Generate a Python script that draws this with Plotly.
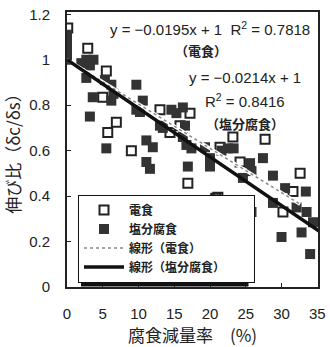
import plotly.graph_objects as go

# 電食 (open squares)
denshoku_x = [0.1, 2.9, 5.5, 5.0, 6.9, 5.7, 9.0, 13.0, 14.4, 15.8, 17.2, 16.9, 21.4, 23.2,
              27.7, 24.2, 21.1, 32.6, 31.6, 30.2, 20.8]
denshoku_y = [1.14, 1.05, 0.95, 0.835, 0.725, 0.68, 0.60, 0.78, 0.68, 0.71, 0.765, 0.457, 0.615, 0.66,
              0.65, 0.55, 0.395, 0.50, 0.42, 0.33, 0.39]

# 塩分腐食 (filled squares)
enbun_x = [0, 0, 0, 0, 2.0, 2.7, 3.2, 2.7, 3.7, 5.3, 6.2, 6.5, 9.7, 3.6, 6.2, 3.2, 5.5,
           11.1, 11.1, 12.0, 11.6, 10.6, 10.2, 13.0, 13.4, 15.3, 16.2, 16.2, 16.7, 16.9,
           19.3, 20.0, 20.0, 21.6, 22.5, 25.8, 24.6, 27.4, 28.8, 30.5, 33.4, 22.5, 25.8,
           28.8, 32.1, 33.5, 34.4, 30.0, 32.8, 34.0, 14.6, 9.7, 17.4, 16.5, 25.6, 23.3]
enbun_y = [1.11, 1.07, 1.03, 1.0, 0.985, 1.0, 0.975, 0.92, 1.0, 0.91, 0.89, 0.85, 0.89, 0.835, 0.82, 0.75, 0.61,
           0.645, 0.55, 0.615, 0.52, 0.82, 0.77, 0.71, 0.70, 0.765, 0.79, 0.66, 0.625, 0.53,
           0.615, 0.567, 0.53, 0.60, 0.61, 0.51, 0.48, 0.567, 0.49, 0.435, 0.42, 0.37, 0.33,
           0.37, 0.35, 0.33, 0.285, 0.22, 0.24, 0.145, 0.78, 0.78, 0.61, 0.71, 0.545, 0.61]

# trend lines (from the printed equations)
slope_den, icpt_den = -0.0195, 1.0
slope_enb, icpt_enb = -0.0214, 1.0
den_line_x = [0, 32.6]
enb_line_x = [0, 35.6]

x_ticks = [0, 5, 10, 15, 20, 25, 30, 35]
y_ticks = [0, 0.2, 0.4, 0.6, 0.8, 1.0, 1.2]
y_ticktext = ["0", "0.2", "0.4", "0.6", "0.8", "1", "1.2"]

JP = "Noto Sans CJK JP"
LAT = "Liberation Sans, Arial, sans-serif"
INK = "#222"

fig = go.Figure()
fig.add_trace(go.Scatter(x=denshoku_x, y=denshoku_y, mode="markers", name="電食",
                         marker=dict(symbol="square-open", size=9, color=INK, line=dict(width=2, color=INK))))
fig.add_trace(go.Scatter(x=enbun_x, y=enbun_y, mode="markers", name="塩分腐食",
                         marker=dict(symbol="square", size=10, color="#333", line=dict(width=0))))
fig.add_trace(go.Scatter(x=den_line_x, y=[slope_den * v + icpt_den for v in den_line_x], mode="lines",
                         showlegend=False, hoverinfo="skip", line=dict(color="white", width=3.5)))
fig.add_trace(go.Scatter(x=den_line_x, y=[slope_den * v + icpt_den for v in den_line_x], mode="lines",
                         name="線形（電食）", line=dict(color="#888", width=1.5, dash="dot")))
fig.add_trace(go.Scatter(x=enb_line_x, y=[slope_enb * v + icpt_enb for v in enb_line_x], mode="lines",
                         name="線形（塩分腐食）", line=dict(color="#111", width=3.5)))

ann = [
    dict(x=20.0, y=1.138, text="y = −0.0195x + 1  R<sup>2</sup> = 0.7818", font=dict(family=LAT, size=15, color=INK)),
    dict(x=18.7, y=1.042, text="（電食）", font=dict(family=JP, size=13, color=INK, weight="bold")),
    dict(x=24.9, y=0.923, text="y = −0.0214x + 1", font=dict(family=LAT, size=15, color=INK)),
    dict(x=24.9, y=0.822, text="R<sup>2</sup> = 0.8416", font=dict(family=LAT, size=15, color=INK)),
    dict(x=24.9, y=0.72, text="（塩分腐食）", font=dict(family=JP, size=13, color=INK, weight="bold")),
]
for a in ann:
    a.update(xref="x", yref="y", showarrow=False, xanchor="center", yanchor="middle")

# plot area in pixels: x 67..318, y 12..287
PW, PH, PL, PB = 251.0, 275.0, 67.0, 287.0
def px2paper_x(p):
    return (p - PL) / PW
def px2paper_y(p):
    return (PB - p) / PH

shadow = dict(type="rect", xref="paper", yref="paper", layer="above",
              x0=px2paper_x(81), x1=px2paper_x(248.5), y0=px2paper_y(286.5), y1=px2paper_y(197),
              fillcolor="#111", line=dict(width=0))

fig.update_layout(
    width=330, height=347,
    margin=dict(l=67, r=12, t=12, b=60, autoexpand=False),
    paper_bgcolor="white", plot_bgcolor="white",
    showlegend=True,
    legend=dict(x=px2paper_x(78), y=px2paper_y(238.5), xanchor="left", yanchor="middle", orientation="h",
                bgcolor="white", bordercolor="#111", borderwidth=1,
                font=dict(family=JP, size=12, color=INK, weight="bold"),
                tracegroupgap=0, itemwidth=40, entrywidth=120, entrywidthmode="pixels"),
    annotations=ann,
    shapes=[shadow],
)
fig.update_xaxes(range=[0, 35.1], tickvals=x_ticks, ticks="inside", ticklen=4, tickwidth=1,
                 tickcolor=INK, showline=True, linecolor=INK, linewidth=2, mirror=True,
                 showgrid=False, zeroline=False, ticklabelstandoff=12, automargin=False,
                 tickfont=dict(family=LAT, size=15, color=INK),
                 title=dict(text="腐食減量率　(%)", font=dict(family=JP, size=17, color=INK), standoff=8))
fig.update_yaxes(range=[0, 1.21], tickvals=y_ticks, ticktext=y_ticktext, ticks="inside", ticklen=4, tickwidth=1,
                 tickcolor=INK, showline=True, linecolor=INK, linewidth=2, mirror=True,
                 showgrid=False, zeroline=False, ticklabelstandoff=12, automargin=False,
                 tickfont=dict(family=LAT, size=15, color=INK),
                 title=dict(text="伸び比（δc/δs）", font=dict(family=JP, size=17, color=INK), standoff=8))

fig.write_html("out.html", config={"displayModeBar": False},
               post_script="document.body.style.margin='0';")
